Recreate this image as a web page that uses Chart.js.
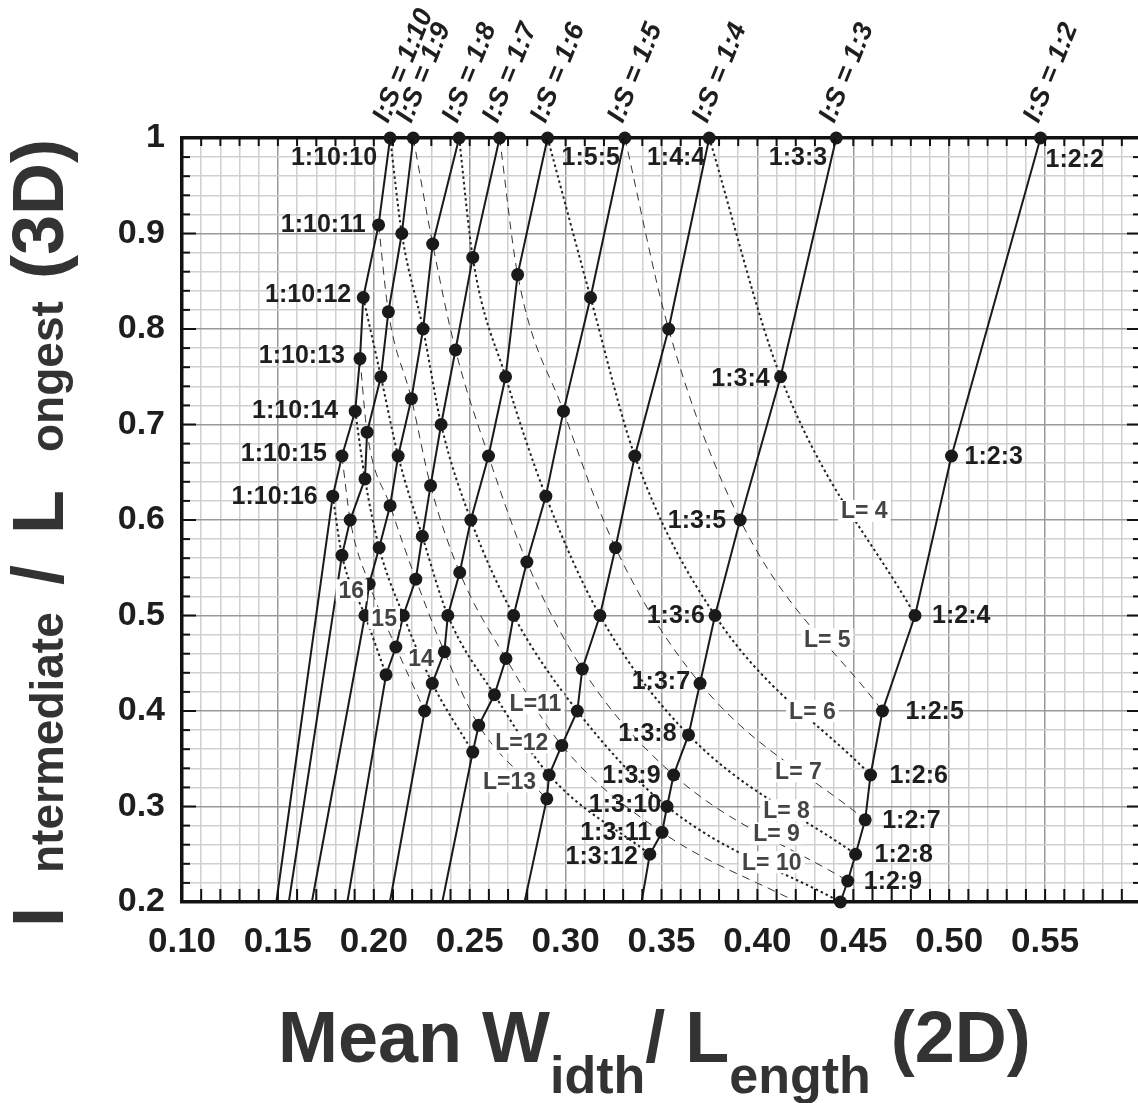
<!DOCTYPE html>
<html><head><meta charset="utf-8">
<script src="https://cdn.jsdelivr.net/npm/chart.js@4.4.0/dist/chart.umd.min.js"></script>
<style>html,body{margin:0;padding:0;background:#fff;overflow:hidden;}canvas{display:block}</style>
</head><body>
<canvas id="c" width="1160" height="1103"></canvas>
<script>
// ---- DATA ----
// I:S ratio of each solid line (S = 1)
const seriesK = [10, 9, 8, 7, 6, 5, 4, 3, 2];
// Longest axis L for each point on a line, mean width/length (2D), intermediate/longest (3D)
const longest_k10 = [10, 11, 12, 13, 14, 15, 16];
const wl_k10 = [0.2085, 0.2025, 0.1945, 0.1928, 0.1903, 0.1834, 0.1786];
const il_k10 = [1.000, 0.909, 0.833, 0.769, 0.714, 0.667, 0.625];

const longest_k9 = [9, 10, 11, 12, 13, 14, 15, 16];
const wl_k9 = [0.2206, 0.2146, 0.2076, 0.2037, 0.1965, 0.1954, 0.1877, 0.1834];
const il_k9 = [1.000, 0.900, 0.818, 0.750, 0.692, 0.643, 0.600, 0.563];

const longest_k8 = [8, 9, 10, 11, 12, 13, 14, 15, 16];
const wl_k8 = [0.2445, 0.2307, 0.2257, 0.2196, 0.2127, 0.2085, 0.2028, 0.1976, 0.1954];
const il_k8 = [1.000, 0.889, 0.800, 0.727, 0.667, 0.615, 0.571, 0.533, 0.500];

const longest_k7 = [7, 8, 9, 10, 11, 12, 13, 14, 15, 16];
const wl_k7 = [0.2656, 0.2516, 0.2426, 0.2351, 0.2296, 0.2253, 0.2219, 0.2154, 0.2115, 0.2064];
const il_k7 = [1.000, 0.875, 0.778, 0.700, 0.636, 0.583, 0.538, 0.500, 0.467, 0.438];

const longest_k6 = [6, 7, 8, 9, 10, 11, 12, 13, 14, 15];
const wl_k6 = [0.2906, 0.2750, 0.2687, 0.2598, 0.2506, 0.2448, 0.2386, 0.2368, 0.2305, 0.2265];
const il_k6 = [1.000, 0.857, 0.750, 0.667, 0.600, 0.545, 0.500, 0.462, 0.429, 0.400];

const longest_k5 = [5, 6, 7, 8, 9, 10, 11, 12, 13, 14];
const wl_k5 = [0.3309, 0.3130, 0.2989, 0.2897, 0.2798, 0.2729, 0.2689, 0.2629, 0.2547, 0.2516];
const il_k5 = [1.000, 0.833, 0.714, 0.625, 0.556, 0.500, 0.455, 0.417, 0.385, 0.357];

const longest_k4 = [4, 5, 6, 7, 8, 9, 10, 11, 12, 13];
const wl_k4 = [0.3749, 0.3537, 0.3361, 0.3260, 0.3179, 0.3087, 0.3061, 0.2980, 0.2914, 0.2902];
const il_k4 = [1.000, 0.800, 0.667, 0.571, 0.500, 0.444, 0.400, 0.364, 0.333, 0.308];

const longest_k3 = [3, 4, 5, 6, 7, 8, 9, 10, 11, 12];
const wl_k3 = [0.4411, 0.4121, 0.3910, 0.3779, 0.3701, 0.3641, 0.3563, 0.3529, 0.3503, 0.3439];
const il_k3 = [1.000, 0.750, 0.600, 0.500, 0.429, 0.375, 0.333, 0.300, 0.273, 0.250];

const longest_k2 = [2, 3, 4, 5, 6, 7, 8, 9, 10];
const wl_k2 = [0.5476, 0.5012, 0.4822, 0.4652, 0.4590, 0.4562, 0.4512, 0.4471, 0.4433];
const il_k2 = [1.000, 0.667, 0.500, 0.400, 0.333, 0.286, 0.250, 0.222, 0.200];

// where each I:S line meets the bottom axis (I/L = 0.2), beyond its last point
const lineBottomWL = [0.1492, 0.1557, 0.1677, 0.1862, 0.2084, 0.2357, 0.2786, 0.3396, null];
const bottomIL = 0.2;

// equal-L curves
const curveL = [4, 5, 6, 7, 8, 9, 10, 11, 12, 13, 14, 15, 16];
// L = 11 curve leaves the plot through the bottom axis here
const curveL11BottomWL = 0.4204;

// axis ranges
const xMin = 0.10, xMax = 0.60, yMin = 0.2, yMax = 1.0;

// ---- LAYOUT / STYLE ----
const FONT = "'Liberation Sans', Arial, Helvetica, sans-serif";
const fnt = (s, st) => (st || 'bold') + ' ' + s + 'px ' + FONT;

const seriesData = [
  {k: 10, L: longest_k10, x: wl_k10, y: il_k10},
  {k: 9, L: longest_k9, x: wl_k9, y: il_k9},
  {k: 8, L: longest_k8, x: wl_k8, y: il_k8},
  {k: 7, L: longest_k7, x: wl_k7, y: il_k7},
  {k: 6, L: longest_k6, x: wl_k6, y: il_k6},
  {k: 5, L: longest_k5, x: wl_k5, y: il_k5},
  {k: 4, L: longest_k4, x: wl_k4, y: il_k4},
  {k: 3, L: longest_k3, x: wl_k3, y: il_k3},
  {k: 2, L: longest_k2, x: wl_k2, y: il_k2}
];

// point label placement: [dx px, dy px, align]
const pointLabelLayout = {
  '1:10:10': [-13, 19, 'right'], '1:10:11': [-13, -1, 'right'], '1:10:12': [-12, -3, 'right'],
  '1:10:13': [-15, -3, 'right'], '1:10:14': [-17, -1, 'right'], '1:10:15': [-15, -3, 'right'],
  '1:10:16': [-15, 0, 'right'],
  '1:5:5': [-5, 19, 'right'], '1:4:4': [-4, 19, 'right'], '1:3:3': [-9, 19, 'right'], '1:2:2': [5, 21, 'left'],
  '1:3:4': [-11, 1, 'right'], '1:3:5': [-14, 0, 'right'], '1:3:6': [-10, 0, 'right'], '1:3:7': [-10, -2, 'right'],
  '1:3:8': [-12, -2, 'right'], '1:3:9': [-13, 0, 'right'], '1:3:10': [-6, -2, 'right'], '1:3:11': [-11, 0, 'right'],
  '1:3:12': [-12, 2, 'right'],
  '1:2:3': [13, 0, 'left'], '1:2:4': [17, 0, 'left'], '1:2:5': [23, 0, 'left'], '1:2:6': [19, 0, 'left'],
  '1:2:7': [17, 0, 'left'], '1:2:8': [19, 0, 'left'], '1:2:9': [16, 0, 'left']
};
// curve labels (centre, in data units)
const lLabelText = ['L= 4', 'L= 5', 'L= 6', 'L= 7', 'L= 8', 'L= 9', 'L= 10', 'L=11', 'L=12', 'L=13', '14', '15', '16'];
const lLabelPos = [[0.4557, 0.6094], [0.4364, 0.4752], [0.4287, 0.3998], [0.4214, 0.3369], [0.4152, 0.2960],
  [0.4100, 0.2719], [0.4075, 0.2415], [0.2843, 0.4081], [0.2771, 0.3672], [0.2708, 0.3263],
  [0.2246, 0.4552], [0.2054, 0.4971], [0.1883, 0.5264]];

// ---- DATASETS ----
const datasets = [];
seriesData.forEach((s, si) => {
  const pts = s.x.map((v, i) => ({x: v, y: s.y[i]}));
  const radii = pts.map(() => 6.5);
  if (lineBottomWL[si] !== null) { pts.push({x: lineBottomWL[si], y: bottomIL}); radii.push(0); }
  datasets.push({
    label: 'I:S = 1:' + s.k, data: pts, showLine: true, borderColor: '#1a1a1a', borderWidth: 2,
    pointRadius: radii, pointBackgroundColor: '#1a1a1a', pointBorderWidth: 0, pointHoverRadius: radii,
    tension: 0, clip: false
  });
});
curveL.forEach(L => {
  const pts = [];
  seriesData.forEach(s => { const i = s.L.indexOf(L); if (i >= 0) pts.push({x: s.x[i], y: s.y[i]}); });
  if (L === 11) pts.push({x: curveL11BottomWL, y: bottomIL});
  const even = L % 2 === 0;
  datasets.push({
    label: 'L=' + L, data: pts, showLine: true, borderColor: even ? '#222' : '#333',
    borderWidth: even ? 2 : 1, borderDash: even ? [2.5, 3] : [8, 6], pointRadius: 0,
    cubicInterpolationMode: 'monotone', clip: false
  });
});

const isMajorX = v => Math.round(v * 100) % 5 === 0;
const isMajorY = v => Math.round(v * 100) % 10 === 0;

const deco = {
  id: 'deco',
  afterDatasetsDraw(chart) {
    const ctx = chart.ctx, xs = chart.scales.x, ys = chart.scales.y, a = chart.chartArea;
    ctx.save();
    // inward ticks
    ctx.strokeStyle = '#111'; ctx.lineWidth = 2;
    const ln = (x1, y1, x2, y2) => { ctx.beginPath(); ctx.moveTo(x1, y1); ctx.lineTo(x2, y2); ctx.stroke(); };
    for (let i = 10; i <= 60; i++) {
      const px = xs.getPixelForValue(i / 100);
      ln(px, a.bottom, px, a.bottom - 13);
      ln(px, a.top, px, a.top + 8);
    }
    for (let i = 10; i <= 50; i++) {
      const py = ys.getPixelForValue(i / 50);
      const len = i % 5 === 0 ? 14 : 8;
      ln(a.left, py, a.left + len, py);
      ln(a.right, py, a.right - len, py);
    }
    // curve labels
    ctx.font = fnt(23); ctx.textAlign = 'center'; ctx.textBaseline = 'middle';
    lLabelText.forEach((t, i) => {
      const px = xs.getPixelForValue(lLabelPos[i][0]), py = ys.getPixelForValue(lLabelPos[i][1]);
      const w = ctx.measureText(t).width;
      ctx.fillStyle = '#fff'; ctx.fillRect(px - w / 2 - 3, py - 11, w + 6, 22);
      ctx.fillStyle = '#444'; ctx.fillText(t, px, py + 1);
    });
    // point labels
    ctx.font = fnt(25); ctx.fillStyle = '#1e1e1e';
    seriesData.forEach(s => s.L.forEach((L, i) => {
      const name = '1:' + s.k + ':' + L; const lay = pointLabelLayout[name];
      if (!lay) return;
      const px = xs.getPixelForValue(s.x[i]), py = ys.getPixelForValue(s.y[i]);
      ctx.textAlign = lay[2]; ctx.textBaseline = 'middle';
      ctx.fillText(name, px + lay[0], py + lay[1] + 1);
    }));
    // I:S labels above the top points
    ctx.font = fnt(27, 'italic bold'); ctx.textAlign = 'left'; ctx.textBaseline = 'alphabetic';
    seriesData.forEach(s => {
      const px = xs.getPixelForValue(s.x[0]), py = ys.getPixelForValue(s.y[0]);
      ctx.save(); ctx.translate(px - 2, py - 14); ctx.rotate(-68 * Math.PI / 180);
      ctx.fillText('I:S = 1:' + s.k, 0, 0); ctx.restore();
    });
    ctx.restore();
  },
  afterDraw(chart) {
    const ctx = chart.ctx;
    ctx.save(); ctx.fillStyle = '#333'; ctx.textBaseline = 'alphabetic'; ctx.textAlign = 'left';
    // x title
    let x = 278;
    [['Mean W', 72, 0], ['idth', 52, 31], ['/ L', 72, 0], ['ength', 52, 31], [' (2D)', 72, 0]].forEach(p => {
      ctx.font = fnt(p[1]); ctx.fillText(p[0], x, 1062 + p[2]); x += ctx.measureText(p[0]).width;
    });
    // y title (rotated)
    ctx.translate(63, 935); ctx.rotate(-Math.PI / 2);
    [['I', 72, 8], ['ntermediate', 46, 62], ['/', 72, 350], ['L', 72, 401], ['ongest', 46, 483], ['(3D)', 72, 656]].forEach(p => {
      ctx.font = fnt(p[1]); ctx.fillText(p[0], p[2], 0);
    });
    ctx.restore();
  }
};

new Chart(document.getElementById('c'), {
  type: 'scatter',
  data: {datasets},
  plugins: [deco],
  options: {
    responsive: false, animation: false, devicePixelRatio: 1,
    layout: {padding: 0},
    plugins: {legend: {display: false}, tooltip: {enabled: false}},
    scales: {
      x: {
        type: 'linear', position: 'bottom', min: xMin, max: xMax,
        afterFit: s => { s.height = 201; },
        ticks: {stepSize: 0.01, autoSkip: false, maxRotation: 0, padding: 19, color: '#1e1e1e', font: {family: FONT, size: 35, weight: 'bold'},
          callback: v => (isMajorX(v) && v < 0.595) ? v.toFixed(2) : ''},
        grid: {drawTicks: false, lineWidth: 1.5, color: c => isMajorX(c.tick.value) ? '#9a9a9a' : '#d0d0d0'},
        border: {display: true, width: 3.5, color: '#111'}
      },
      x2: {
        type: 'linear', position: 'top', min: xMin, max: xMax,
        afterFit: s => { s.height = 138; },
        ticks: {display: false}, grid: {display: false},
        border: {display: true, width: 3.5, color: '#111'}
      },
      y: {
        type: 'linear', position: 'left', min: yMin, max: yMax,
        afterFit: s => { s.width = 182; },
        ticks: {stepSize: 0.02, autoSkip: false, padding: 17, color: '#1e1e1e', font: {family: FONT, size: 34, weight: 'bold'},
          callback: v => isMajorY(v) ? (Math.abs(v - 1) < 1e-9 ? '1' : v.toFixed(1)) : ''},
        grid: {drawTicks: false, lineWidth: 1.5, color: c => isMajorY(c.tick.value) ? '#9a9a9a' : '#d0d0d0'},
        border: {display: true, width: 3.5, color: '#111'}
      },
      y2: {
        type: 'linear', position: 'right', min: yMin, max: yMax,
        afterFit: s => { s.width = 15; },
        ticks: {display: false}, grid: {display: false},
        border: {display: true, width: 3.5, color: '#111'}
      }
    }
  }
});
</script>
</body></html>
